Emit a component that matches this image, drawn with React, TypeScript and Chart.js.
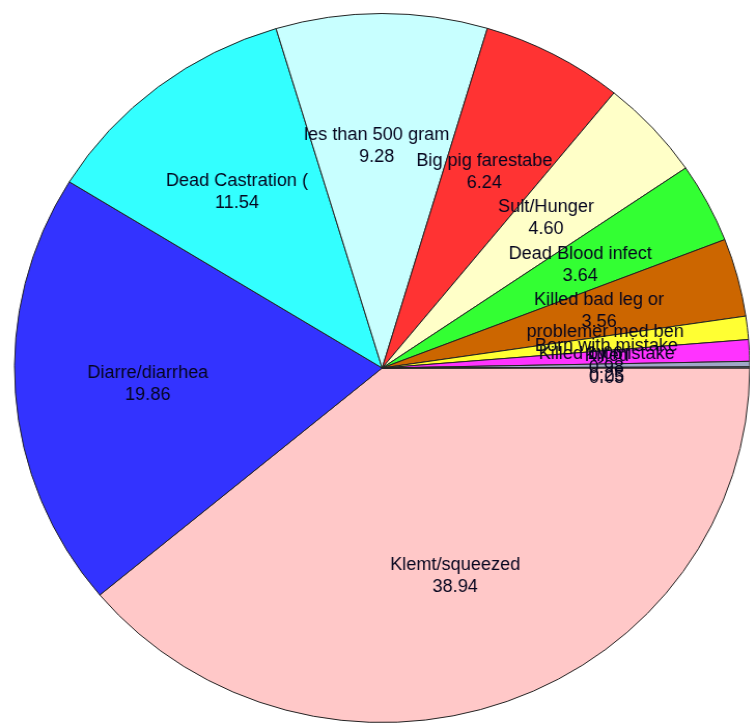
import React, { useEffect, useRef } from "react";
import { Chart, registerables } from "chart.js";

Chart.register(...registerables);

const categories = [
  "Klemt/squeezed",
  "Diarre/diarrhea",
  "Dead Castration (",
  "les than 500 gram",
  "Big pig farestabe",
  "Sult/Hunger",
  "Dead Blood infect",
  "Killed bad leg or",
  "problemer med ben",
  "Born with mistake",
  "Killed by mistake",
  "Killed",
];

const percents = [38.94, 19.86, 11.54, 9.28, 6.24, 4.6, 3.64, 3.56, 1.06, 0.98, 0.25, 0.05];

const sliceColors = [
  "#FFC8C8",
  "#3333FF",
  "#33FFFF",
  "#C8FFFF",
  "#FF3333",
  "#FFFFC8",
  "#33FF33",
  "#CC6600",
  "#FFFF33",
  "#FF33FF",
  "#A0A8C8",
  "#8890A8",
];

const sliceLabelPlugin = {
  id: "sliceLabels",
  afterDatasetsDraw(chart: any) {
    const meta = chart.getDatasetMeta(0);
    const ctx = chart.ctx;
    ctx.save();
    ctx.font = '17.5px "Liberation Sans", Arial, sans-serif';
    ctx.fillStyle = "#05051e";
    ctx.textAlign = "center";
    ctx.textBaseline = "middle";
    meta.data.forEach((arc: any, i: number) => {
      const p = arc.getProps(["x", "y", "startAngle", "endAngle", "outerRadius"], true);
      const mid = (p.startAngle + p.endAngle) / 2;
      const r = p.outerRadius * 0.625;
      const cx = p.x + Math.cos(mid) * r - 5;
      const cy = p.y + Math.sin(mid) * r;
      ctx.fillText(categories[i], cx, cy - 11);
      ctx.fillText(percents[i].toFixed(2), cx, cy + 11);
    });
    ctx.restore();
  },
};

export default function App() {
  const ref = useRef<HTMLCanvasElement | null>(null);
  useEffect(() => {
    if (!ref.current) return;
    const chart = new Chart(ref.current, {
      type: "pie",
      data: {
        labels: categories,
        datasets: [
          {
            data: percents,
            backgroundColor: sliceColors,
            borderColor: "#222222",
            borderWidth: 1,
          },
        ],
      },
      options: {
        responsive: false,
        animation: false,
        rotation: 90,
        layout: { padding: { top: 13, bottom: 0, left: 0, right: 0 } },
        plugins: {
          legend: { display: false },
          tooltip: { enabled: false },
        },
      },
      plugins: [sliceLabelPlugin],
    });
    return () => chart.destroy();
  }, []);
  return (
    <div
      style={{
        position: "fixed",
        left: 0,
        top: 0,
        width: 750,
        height: 723,
        overflow: "hidden",
        background: "#ffffff",
      }}
    >
      <canvas
        ref={ref}
        width={737}
        height={723}
        style={{
          display: "block",
          transform: "scaleX(1.037)",
          transformOrigin: "0 0",
        }}
      />
    </div>
  );
}
